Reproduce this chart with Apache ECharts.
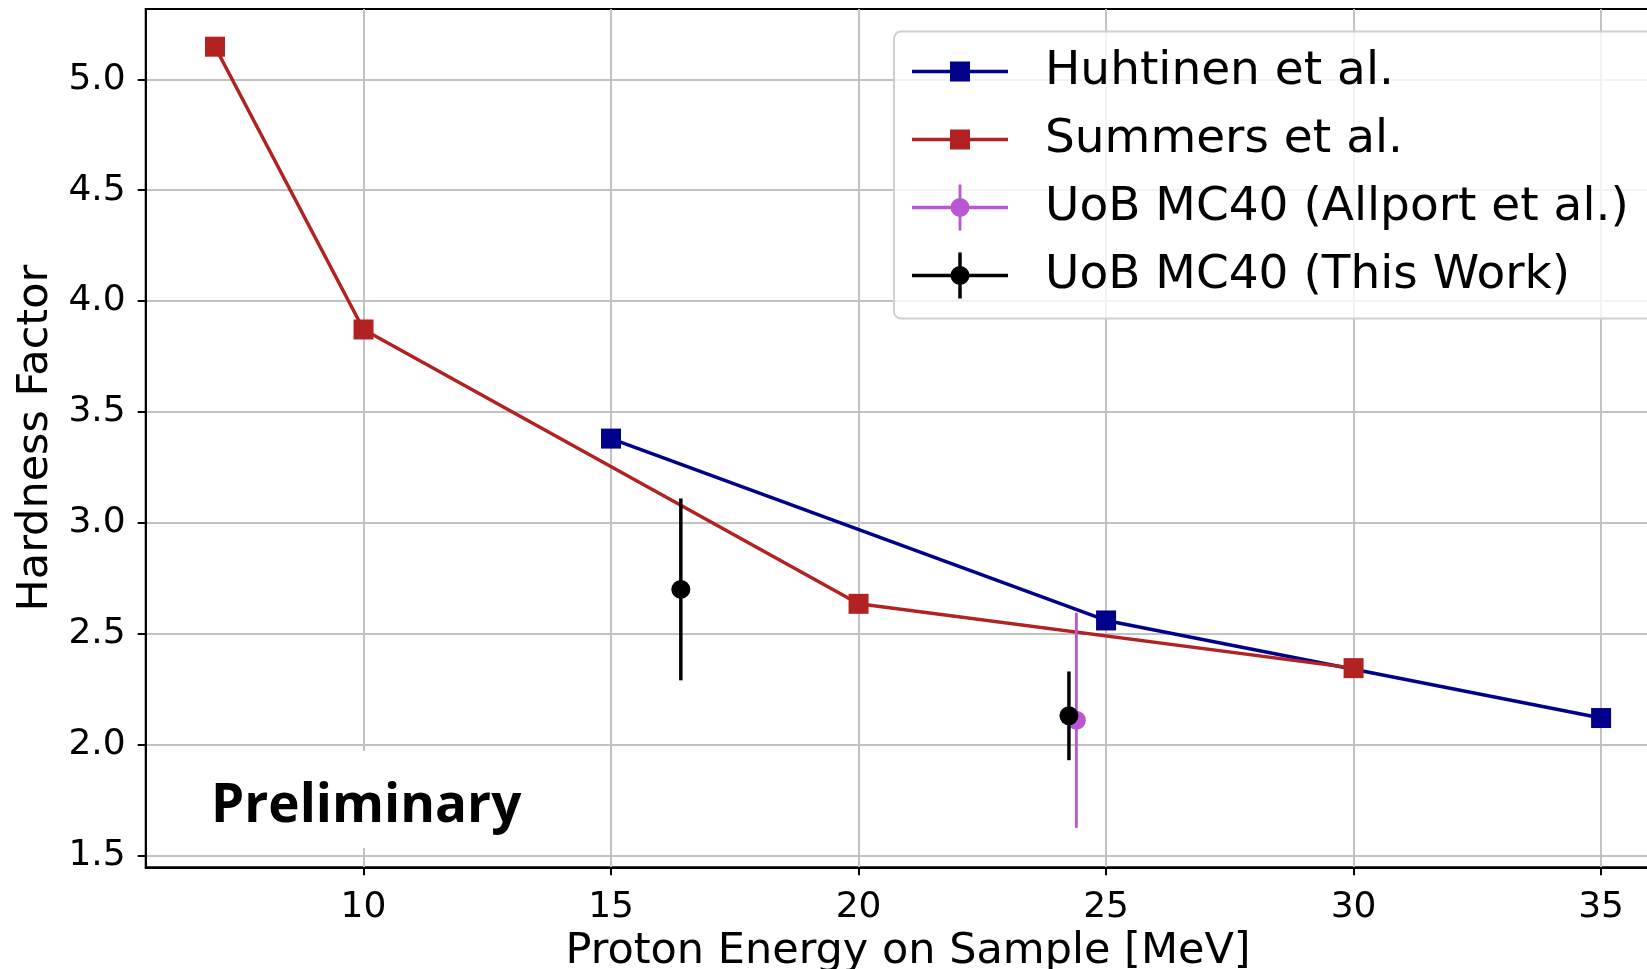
<!DOCTYPE html>
<html><head><meta charset="utf-8">
<script src="https://cdn.jsdelivr.net/npm/echarts@6/dist/echarts.min.js"></script>
<style>html,body{margin:0;padding:0;background:#fff}#c{width:1647px;height:969px}</style>
</head><body><div id="c"></div>
<script>
// ---- data ----
const huhtinenX = [15, 25, 35];
const huhtinenY = [3.38, 2.56, 2.12];
const summersX = [7, 10, 20, 30];
const summersY = [5.147, 3.872, 2.635, 2.345];
const allportX = [24.40];
const allportY = [2.11];
const allportErr = [0.485];
const thisWorkX = [16.41, 24.25];
const thisWorkY = [2.70, 2.13];
const thisWorkErr = [0.41, 0.20];
const xTicks = [10, 15, 20, 25, 30, 35];
const yTicks = [1.5, 2.0, 2.5, 3.0, 3.5, 4.0, 4.5, 5.0];
const seriesNames = ['Huhtinen et al.', 'Summers et al.', 'UoB MC40 (Allport et al.)', 'UoB MC40 (This Work)'];

const zip2 = (a, b) => a.map((v, i) => [v, b[i]]);
const zip3 = (a, b, c) => a.map((v, i) => [v, b[i], c[i]]);

const FONT = 'DejaVu Sans';
const BLUE = '#00008b', RED = '#b22222', PURPLE = '#ba55d3', BLACK = '#000000';

function errRender(color, lw, r) {
  return function (params, api) {
    const x = api.value(0), y = api.value(1), e = api.value(2);
    const t = api.coord([x, y + e]), b = api.coord([x, y - e]), c = api.coord([x, y]);
    return { type: 'group', children: [
      { type: 'line', shape: { x1: t[0], y1: t[1], x2: b[0], y2: b[1] }, style: { stroke: color, lineWidth: lw } },
      { type: 'circle', shape: { cx: c[0], cy: c[1], r: r }, style: { fill: color } }
    ]};
  };
}

// legend icons (box 128 x 46)
const anchor = 'M0,0 L0.01,0 L0,0.01 Z M128,46 L127.99,46 L128,45.99 Z ';
const hline = 'M0,21.25 L96,21.25 L96,24.75 L0,24.75 Z ';
const sqIcon = 'path://' + anchor + hline + 'M38,13 L58,13 L58,33 L38,33 Z';
const errIcon = (w) => 'path://' + anchor + hline +
  'M' + (48 - w / 2) + ',0 L' + (48 + w / 2) + ',0 L' + (48 + w / 2) + ',46 L' + (48 - w / 2) + ',46 Z ' +
  'M38.5,23 A9.5,9.5 0 1 1 57.5,23 A9.5,9.5 0 1 1 38.5,23 Z';

const chart = echarts.init(document.getElementById('c'), null, { renderer: 'canvas' });
chart.setOption({
  animation: false,
  backgroundColor: '#ffffff',
  grid: { left: 145.7, right: -23.4, top: 9, bottom: 101.7, show: true, borderColor: '#000', borderWidth: 2,
          backgroundColor: 'transparent', containLabel: false, outerBoundsMode: 'none' },
  xAxis: {
    type: 'value', min: 5.6, max: 36.4,
    name: 'Proton Energy on Sample [MeV]', nameLocation: 'middle', nameGap: 63,
    nameTextStyle: { fontFamily: FONT, fontSize: 43, color: '#000' },
    axisLine: { show: true, onZero: false, lineStyle: { color: '#000', width: 2 } },
    axisTick: { show: true, length: 8, lineStyle: { color: '#000', width: 2 }, customValues: xTicks },
    axisLabel: { fontFamily: FONT, fontSize: 36, color: '#000', margin: 22, customValues: xTicks, formatter: v => String(v) },
    splitLine: { show: true, lineStyle: { color: '#c2c2c2', width: 2 } }
  },
  yAxis: {
    type: 'value', min: 1.447, max: 5.317,
    name: 'Hardness Factor', nameLocation: 'middle', nameGap: 85, nameRotate: 90,
    nameTextStyle: { fontFamily: FONT, fontSize: 43, color: '#000' },
    axisLine: { show: true, onZero: false, lineStyle: { color: '#000', width: 2 } },
    axisTick: { show: true, length: 8, lineStyle: { color: '#000', width: 2 }, customValues: yTicks },
    axisLabel: { fontFamily: FONT, fontSize: 36, color: '#000', margin: 20, customValues: yTicks, formatter: v => v.toFixed(1) },
    splitLine: { show: true, lineStyle: { color: '#c2c2c2', width: 2 } }
  },
  legend: {
    orient: 'vertical', left: 912, top: 48, itemWidth: 128, itemHeight: 46, itemGap: 21, padding: 0,
    selectedMode: false, z: 10,
    textStyle: { fontFamily: FONT, fontSize: 47, color: '#000' },
    itemStyle: { borderWidth: 0 },
    data: [
      { name: seriesNames[0], icon: sqIcon },
      { name: seriesNames[1], icon: sqIcon },
      { name: seriesNames[2], icon: errIcon(2.8) },
      { name: seriesNames[3], icon: errIcon(3.5) }
    ]
  },
  graphic: [
    { type: 'rect', z: 5, shape: { x: 894, y: 31.5, width: 800, height: 287, r: 7 },
      style: { fill: 'rgba(255,255,255,0.8)', stroke: '#d0d0d0', lineWidth: 2 } },
    { type: 'text', z: 5, x: 200, y: 751,
      style: { text: 'Preliminary', font: 'bold 53px "Open Sans"', fill: '#000', backgroundColor: '#fff', padding: [29, 11, 15, 11] } }
  ],
  series: [
    { name: seriesNames[0], type: 'line', data: zip2(huhtinenX, huhtinenY), color: BLUE,
      symbol: 'rect', symbolSize: 20, lineStyle: { width: 3.5, color: BLUE }, itemStyle: { color: BLUE }, z: 2 },
    { name: seriesNames[1], type: 'line', data: zip2(summersX, summersY), color: RED,
      symbol: 'rect', symbolSize: 20, lineStyle: { width: 3.5, color: RED }, itemStyle: { color: RED }, z: 3 },
    { name: seriesNames[2], type: 'custom', data: zip3(allportX, allportY, allportErr), encode: { x: 0, y: 1 },
      itemStyle: { color: PURPLE }, renderItem: errRender(PURPLE, 2.8, 9.5), z: 4 },
    { name: seriesNames[3], type: 'custom', data: zip3(thisWorkX, thisWorkY, thisWorkErr), encode: { x: 0, y: 1 },
      itemStyle: { color: BLACK }, renderItem: errRender(BLACK, 3.5, 9.5), z: 5 }
  ]
});
</script></body></html>
